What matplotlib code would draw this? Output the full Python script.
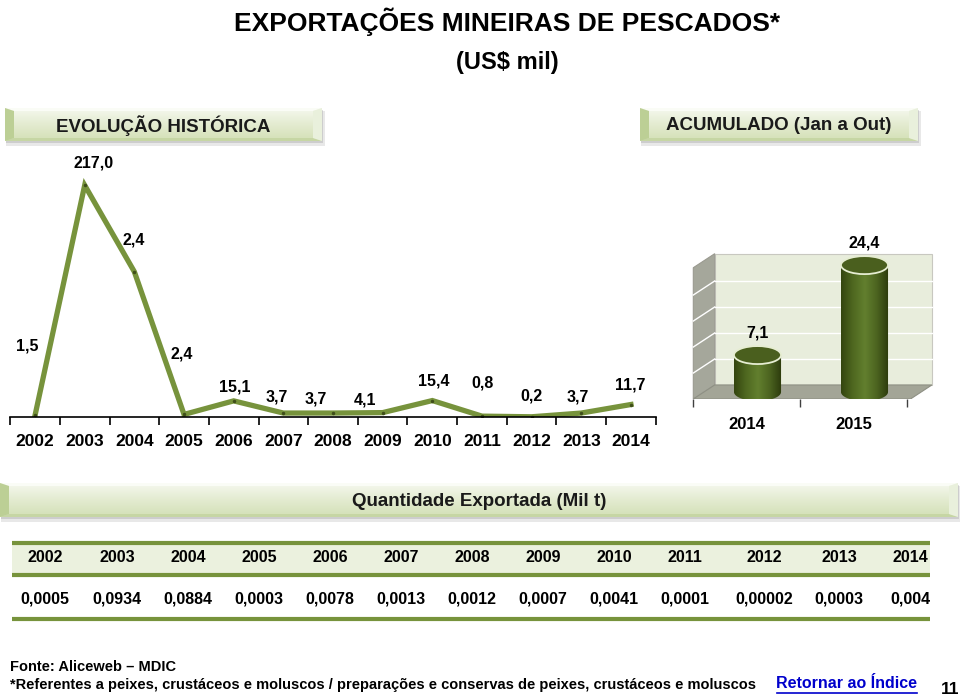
import matplotlib
matplotlib.use("Agg")
import matplotlib.pyplot as plt
import numpy as np
from matplotlib.patches import Polygon, Rectangle, Ellipse
from matplotlib.colors import LinearSegmentedColormap

W, H = 960, 699

# data
years = ['2002', '2003', '2004', '2005', '2006', '2007', '2008',
         '2009', '2010', '2011', '2012', '2013', '2014']
line_values = [1.5, 217.0, 136.0, 2.4, 15.1, 3.7, 3.7, 4.1, 15.4, 0.8, 0.2, 3.7, 11.7]
line_labels = ['1,5', '217,0', '2,4', '2,4', '15,1', '3,7', '3,7',
               '4,1', '15,4', '0,8', '0,2', '3,7', '11,7']
acum_years = ['2014', '2015']
acum_values = [7.1, 24.4]
qty_values = [0.0005, 0.0934, 0.0884, 0.0003, 0.0078, 0.0013, 0.0012,
              0.0007, 0.0041, 0.0001, 0.00002, 0.0003, 0.004]

# label offsets (px) relative to each line point
label_offsets = [(-8, 69), (9, 22), (-1, 32), (-2, 60), (1, 14), (-7, 16), (-17, 14),
                 (-18, 13), (1, 20), (1, 33), (0, 21), (-4, 16), (-1, 20)]
table_x = [45, 117, 188, 259, 330, 401, 472, 543, 614, 685, 764, 839, 910]

NARROW = ['Liberation Sans Narrow', 'Liberation Sans']
ARIAL = ['Liberation Sans']
GREEN = '#77933C'


def px_rect(x0, y0, x1, y1):
    return [x0 / W, 1 - y1 / H, (x1 - x0) / W, (y1 - y0) / H]


fig = plt.figure(figsize=(W / 100, H / 100), dpi=100)
fig.patch.set_facecolor('white')

# background layer in pixel coordinates
bg = fig.add_axes([0, 0, 1, 1], zorder=0)
bg.axis('off')

band_cmap = LinearSegmentedColormap.from_list('band', ['#F5F8EE', '#E3EBD0', '#D3E0B6'])


def band(x0, y0, x1, y1, text, size, family, b=9, bt=3):
    bg.add_patch(Rectangle((x0 + 1, y0 + 3), x1 - x0 + 2, y1 - y0 + 2, color='#8C8C8C',
                           alpha=0.2, lw=0, zorder=1))
    bg.add_patch(Rectangle((x0 + 1, y0 + 2), x1 - x0, y1 - y0, color='#7F7F7F',
                           alpha=0.25, lw=0, zorder=1))
    grad = np.linspace(0, 1, 60).reshape(-1, 1)
    bg.imshow(grad, cmap=band_cmap, extent=(x0, x1, y1, y0), aspect='auto', zorder=2)
    bg.add_patch(Polygon([(x0, y0), (x1, y0), (x1 - b, y0 + bt), (x0 + b, y0 + bt)],
                         color='#FAFCF6', lw=0, zorder=3))
    bg.add_patch(Polygon([(x0, y1), (x1, y1), (x1 - b, y1 - bt), (x0 + b, y1 - bt)],
                         color='#C6D6A4', lw=0, zorder=3))
    bg.add_patch(Polygon([(x0, y0), (x0 + b, y0 + bt), (x0 + b, y1 - bt), (x0, y1)],
                         color='#BCCF95', lw=0, zorder=3))
    bg.add_patch(Polygon([(x1, y0), (x1 - b, y0 + bt), (x1 - b, y1 - bt), (x1, y1)],
                         color='#E9F0DC', lw=0, zorder=3))
    bg.text((x0 + x1) / 2, (y0 + y1) / 2 + 1, text, ha='center', va='center',
            fontsize=size, fontweight='bold', family=family, color='#1A1A1A', zorder=4)


# titles
bg.text(507, 22, 'EXPORTAÇÕES MINEIRAS DE PESCADOS*', ha='center', va='center',
        fontsize=19, fontweight='bold', family=ARIAL)
bg.text(507, 62, '(US$ mil)', ha='center', va='center',
        fontsize=17, fontweight='bold', family=ARIAL)

band(5, 108, 322, 141, 'EVOLUÇÃO HISTÓRICA', 13.5, ARIAL)
band(640, 108, 918, 141, 'ACUMULADO (Jan a Out)', 13.5, ARIAL)
band(0, 483, 958, 517, 'Quantidade Exportada (Mil t)', 13.5, NARROW)

# table
bg.add_patch(Rectangle((12, 545), 918, 28, color='#EBF1DE', lw=0, zorder=1))
for yy in [543, 575, 619]:
    bg.plot([12, 930], [yy, yy], color=GREEN, lw=3, solid_capstyle='butt', zorder=2)
for x, yr, q in zip(table_x, years, qty_values):
    bg.text(x, 558, yr, ha='center', va='center', fontsize=11.5, fontweight='bold', family=ARIAL)
    s = f'{q:.5f}'.rstrip('0').replace('.', ',')
    bg.text(x, 599, s, ha='center', va='center', fontsize=11.5, fontweight='bold', family=ARIAL)

# footer
bg.text(10, 667, 'Fonte: Aliceweb – MDIC', ha='left', va='center',
        fontsize=10.5, fontweight='bold', family=NARROW)
bg.text(10, 685, '*Referentes a peixes, crustáceos e moluscos / preparações e conservas '
        'de peixes, crustáceos e moluscos', ha='left', va='center',
        fontsize=10.5, fontweight='bold', family=NARROW)
bg.text(847, 684, 'Retornar ao Índice', ha='center', va='center', fontsize=11.5,
        fontweight='bold', family=ARIAL, color='#0000CC')
bg.plot([777, 917], [693, 693], color='#0000CC', lw=1.2)
bg.text(950, 689, '11', ha='center', va='center', fontsize=12.5, fontweight='bold', family=NARROW)

bg.set_xlim(0, W)
bg.set_ylim(H, 0)

# line chart
ax = fig.add_axes(px_rect(10.2, 150, 655.8, 417), zorder=2)
ax.patch.set_alpha(0)
x = np.arange(len(years))
ax.plot(x, line_values, color=GREEN, lw=3.8, solid_joinstyle='miter',
        marker='o', ms=1.5, mfc='#3F4F1A', mec='#3F4F1A')
for xi, v, lab, (dx, dy) in zip(x, line_values, line_labels, label_offsets):
    ax.annotate(lab, (xi, v), xytext=(dx * 0.72, dy * 0.72), textcoords='offset points',
                ha='center', va='center', fontsize=11.5, fontweight='bold', family=NARROW)
ax.set_xlim(-0.5, len(years) - 0.5)
ax.set_ylim(0, 250)
for s in ['top', 'right', 'left']:
    ax.spines[s].set_visible(False)
ax.spines['bottom'].set_linewidth(1.2)
ax.set_yticks([])
ax.set_xticks(x)
ax.set_xticklabels(years, fontsize=12.5, fontweight='bold', family=NARROW)
ax.tick_params(axis='x', which='major', length=0, pad=12)
ax.set_xticks(np.arange(-0.5, len(years), 1), minor=True)
ax.tick_params(axis='x', which='minor', length=6, width=1.2, direction='out')

# 3D-ish cylinder chart
ax2 = fig.add_axes(px_rect(690, 240, 935, 399), zorder=2)
ax2.patch.set_alpha(0)
DX, DY = 0.2, 2.7
top = 26.6
fl, fr = -0.6, 1.43
# back wall, side wall, floor
ax2.add_patch(Polygon([(fl + DX, DY / 2), (fr + DX, DY / 2), (fr + DX, top), (fl + DX, top)],
                      facecolor='#E8EDDC', edgecolor='#C8C8C0', lw=0.8, zorder=1))
ax2.add_patch(Polygon([(fl, -DY / 2), (fl, top - DY), (fl + DX, top), (fl + DX, DY / 2)],
                      facecolor='#A5A79B', edgecolor='#9A9A90', lw=0.8, zorder=1))
ax2.add_patch(Polygon([(fl, -DY / 2), (fr, -DY / 2), (fr + DX, DY / 2), (fl + DX, DY / 2)],
                      facecolor='#A3A597', edgecolor='#8E9084', lw=0.8, zorder=1))
for k in range(1, 5):
    g = DY / 2 + 5 * k
    ax2.plot([fl + DX, fr + DX], [g, g], color='white', lw=1, zorder=2)
    ax2.plot([fl, fl + DX], [g - DY, g], color='white', lw=1, zorder=2)

cyl_cmap = LinearSegmentedColormap.from_list('cyl', ['#34450F', '#4F6820', '#627F2E',
                                                     '#4C6420', '#2C3A0C'])
w, eh = 0.44, 3.46
t1 = np.linspace(np.pi, 2 * np.pi, 40)
t2 = np.linspace(0, np.pi, 40)
for i, v in enumerate(acum_values):
    cx = i
    px = np.concatenate([cx + w / 2 * np.cos(t1), cx + w / 2 * np.cos(t2)])
    py = np.concatenate([eh / 2 * np.sin(t1), v + eh / 2 * np.sin(t2)])
    clip = Polygon(np.column_stack([px, py]), facecolor='none', edgecolor='none')
    ax2.add_patch(clip)
    im = ax2.imshow(np.linspace(0, 1, 100).reshape(1, -1), cmap=cyl_cmap,
                    extent=(cx - w / 2, cx + w / 2, -eh / 2, v + eh / 2),
                    aspect='auto', zorder=3)
    im.set_clip_path(clip)
    ax2.add_patch(Ellipse((cx, v), w, eh, facecolor='#4A5F1E', edgecolor='#E6EDD2',
                          lw=1.3, zorder=4))
    ax2.annotate(f'{v:.1f}'.replace('.', ','), (cx, v), xytext=(0, 16),
                 textcoords='offset points', ha='center', va='center',
                 fontsize=11.5, fontweight='bold', family=ARIAL)

ax2.set_xlim(-0.631, 1.659)
ax2.set_ylim(-1.35, 29.23)
for s in ax2.spines.values():
    s.set_visible(False)
ax2.set_yticks([])
ax2.set_xticks([-0.6, 0.4, 1.4])
ax2.set_xticklabels([])
ax2.tick_params(axis='x', which='major', length=6, width=1, color='#404040')
ax2.set_xticks([-0.1, 0.9], minor=True)
ax2.set_xticklabels(acum_years, minor=True, fontsize=12, fontweight='bold', family=ARIAL)
ax2.tick_params(axis='x', which='minor', length=0, pad=13)

fig.savefig('out.png', dpi=100)
